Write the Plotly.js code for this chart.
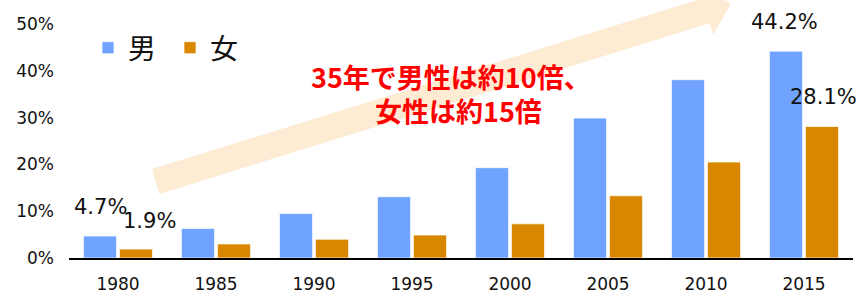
<!DOCTYPE html>
<html>
<head>
<meta charset="utf-8">
<script src="https://cdn.plot.ly/plotly-3.0.1.min.js"></script>
<style>html,body{margin:0;padding:0;background:#fff;}#chart{width:861px;height:293px;}</style>
</head>
<body>
<div id="chart"></div>
<script>
// ---- data ----
const years = ['1980','1985','1990','1995','2000','2005','2010','2015'];
const male = [4.7, 6.3, 9.5, 13.1, 19.3, 29.9, 38.1, 44.2];
const female = [1.9, 3.0, 4.0, 4.9, 7.3, 13.3, 20.5, 28.1];
const seriesNames = ['男', '女'];
const noteLines = ['35年で男性は約10倍、', '女性は約15倍'];

// ---- layout constants ----
const W = 861, H = 293;
const ML = 69, MR = 8, MT = 24, MB = 35;
const PW = W - ML - MR, PH = H - MT - MB;
function toPaperX(x) { return (x - ML) / PW; }
function toPaperY(y) { return (H - MB - y) / PH; }

const numFont = 'DejaVu Sans';
const jpFont = 'Noto Sans CJK JP';

const traces = [
  {type: 'bar', name: seriesNames[0], x: years, y: male,
   marker: {color: '#6FA3FF', line: {color: 'rgba(255,255,255,0.7)', width: 1}}},
  {type: 'bar', name: seriesNames[1], x: years, y: female,
   marker: {color: '#DA8700', line: {color: 'rgba(255,255,255,0.7)', width: 1}}}
];

// arrow decoration (pixel outline converted to paper coords)
const arrowPts = [[151.75,169.1],[702.0,-1.5],[698.4,-13.0],[731,3.5],[713.2,34.8],[709.6,23.3],[159.45,193.9]];
const arrowPath = 'M' + arrowPts.map(p => toPaperX(p[0]).toFixed(5) + ',' + toPaperY(p[1]).toFixed(5)).join(' L') + ' Z';

const last = years.length - 1;
function lblFont() { return {family: numFont, size: 21, color: '#111'}; }
const noteFont = {family: jpFont, size: 27, color: '#FF0000'};
const noteCentersY = [76, 110];
const annotations = [
  {x: 0, y: male[0], text: male[0].toFixed(1) + '%', xshift: -18, yshift: 29, showarrow: false, font: lblFont()},
  {x: 0, y: female[0], text: female[0].toFixed(1) + '%', xshift: 31, yshift: 28, showarrow: false, font: lblFont()},
  {x: last, y: male[last], text: male[last].toFixed(1) + '%', xshift: -20, yshift: 29, showarrow: false, font: lblFont()},
  {x: last, y: female[last], text: female[last].toFixed(1) + '%', xshift: 19, yshift: 29, showarrow: false, font: lblFont()}
].concat(noteLines.map((t, i) => ({
  xref: 'paper', yref: 'paper', x: toPaperX(i === 0 ? 451 : 458), y: toPaperY(noteCentersY[i]),
  xanchor: 'center', yanchor: 'middle', text: '<b>' + t + '</b>', showarrow: false,
  borderpad: 0, font: noteFont
})));

const layout = {
  width: W, height: H,
  margin: {l: ML, r: MR, t: MT, b: MB},
  paper_bgcolor: '#fff', plot_bgcolor: '#fff',
  showlegend: true,
  legend: {orientation: 'h', x: toPaperX(88), y: toPaperY(48), xanchor: 'left', yanchor: 'middle',
           entrywidth: 37, entrywidthmode: 'pixels',
           font: {family: jpFont, size: 28, color: '#111'}, bgcolor: 'rgba(0,0,0,0)'},
  bargap: 0.265, bargroupgap: 0.08,
  xaxis: {type: 'category', range: [-0.5, last + 0.5], autorange: false, showgrid: false, showline: true,
          linecolor: '#000', linewidth: 2, ticks: '', ticklabelstandoff: 10,
          tickfont: {family: numFont, size: 17, color: '#111'}},
  yaxis: {range: [0, 50], autorange: false, tick0: 0, dtick: 10, ticksuffix: '%', showgrid: false,
          zeroline: false, showline: false, ticks: '', ticklabelstandoff: 14,
          tickfont: {family: numFont, size: 17, color: '#111'}},
  shapes: [{type: 'path', xref: 'paper', yref: 'paper', path: arrowPath, layer: 'below',
            fillcolor: '#FDEBD3', line: {width: 0}}],
  annotations: annotations
};

Plotly.newPlot('chart', traces, layout, {displayModeBar: false, staticPlot: true});
</script>
</body>
</html>
